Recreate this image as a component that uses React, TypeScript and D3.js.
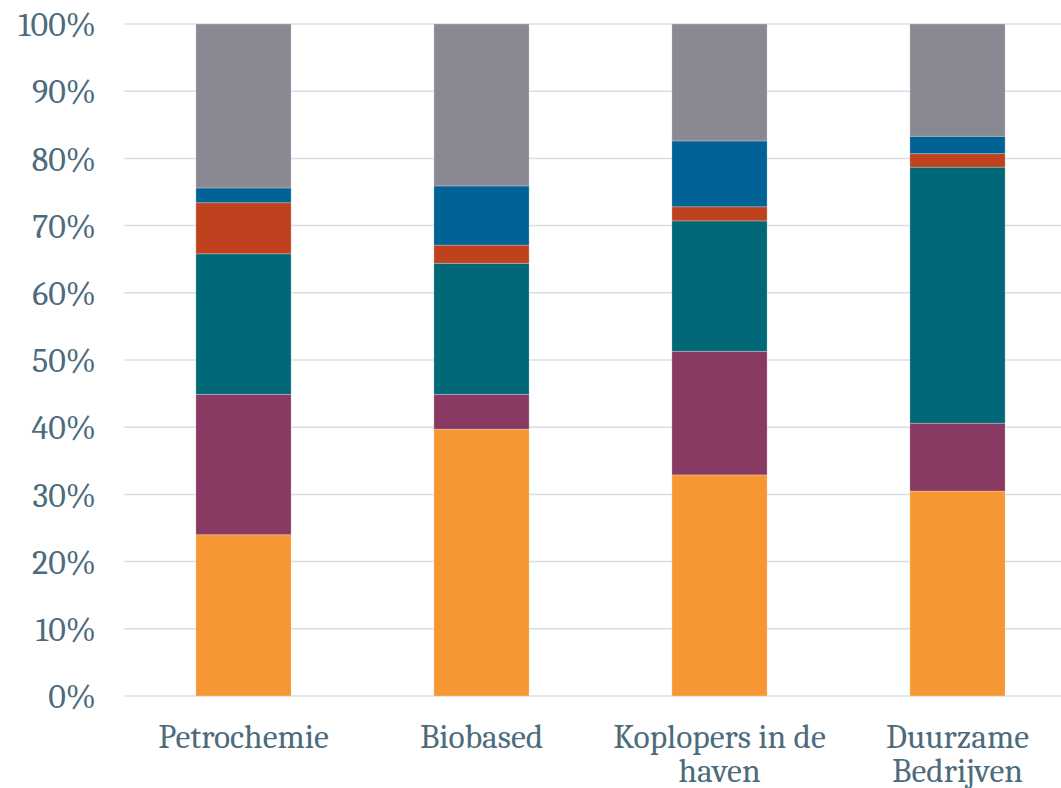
import React, { useEffect, useRef } from "react";
import * as d3 from "d3";

const categories = ["Petrochemie", "Biobased", "Koplopers in de haven", "Duurzame Bedrijven"];
const categoryLines = [["Petrochemie"], ["Biobased"], ["Koplopers in de", "haven"], ["Duurzame", "Bedrijven"]];
const seriesNames = ["s1", "s2", "s3", "s4", "s5", "s6"];
const s1 = [24.0, 39.7, 32.9, 30.5];
const s2 = [20.9, 5.2, 18.4, 10.1];
const s3 = [20.9, 19.5, 19.4, 38.1];
const s4 = [7.6, 2.7, 2.1, 2.0];
const s5 = [2.2, 8.8, 9.8, 2.6];
const s6 = [24.4, 24.1, 17.4, 16.7];
const seriesValues = [s1, s2, s3, s4, s5, s6];
const colors = ["#F79733", "#883A63", "#006877", "#BF411E", "#006295", "#8A8893"];
const yTicks = [0, 10, 20, 30, 40, 50, 60, 70, 80, 90, 100];

export default function App() {
  const ref = useRef<SVGSVGElement>(null);
  useEffect(() => {
    const svg = d3.select(ref.current);
    svg.selectAll("*").remove();
    const W = 1061;
    const left = 124.5, right = 1076.5, top = 24, bottom = 696;
    const x = d3.scaleBand().domain(categories).range([left, right]).paddingInner(0.6).paddingOuter(0.3);
    const y = d3.scaleLinear().domain([0, 100]).range([bottom, top]);
    const textColor = "#4C6B7C";
    const font = "Cambria, 'DejaVu Serif', serif";

    const g = svg.append("g");
    g.selectAll("line.grid").data(yTicks).enter().append("line")
      .attr("x1", left).attr("x2", W).attr("y1", d => y(d)).attr("y2", d => y(d))
      .attr("stroke", "#D6E0E7").attr("stroke-width", 1.5);

    g.selectAll("text.yt").data(yTicks).enter().append("text")
      .attr("x", 96).attr("y", d => y(d)).attr("dy", "0.36em")
      .attr("text-anchor", "end").attr("fill", textColor)
      .attr("font-family", font).attr("font-size", 34)
      .text(d => d + "%");

    const table = categories.map((c, i) => {
      const o: any = { cat: c };
      seriesNames.forEach((s, j) => (o[s] = seriesValues[j][i]));
      return o;
    });
    const stack = d3.stack<any>().keys(seriesNames)(table);
    stack.forEach((layer, j) => {
      g.selectAll(null).data(layer).enter().append("rect")
        .attr("x", d => x(d.data.cat)!)
        .attr("width", x.bandwidth())
        .attr("y", d => y(d[1]))
        .attr("height", d => y(d[0]) - y(d[1]))
        .attr("fill", colors[j])
        .attr("stroke", "rgba(255,255,255,0.35)")
        .attr("stroke-width", 0.75);
    });

    categories.forEach((c, i) => {
      const t = g.append("text")
        .attr("text-anchor", "middle").attr("fill", textColor)
        .attr("font-family", font).attr("font-size", 33.5);
      categoryLines[i].forEach((ln, k) => {
        t.append("tspan").attr("x", x(c)! + x.bandwidth() / 2).attr("y", 748 + k * 33.5).text(ln);
      });
    });
  }, []);
  return (
    <svg ref={ref} width={1061} height={788}
      style={{ position: "absolute", left: 0, top: 0, background: "#fff" }} />
  );
}
